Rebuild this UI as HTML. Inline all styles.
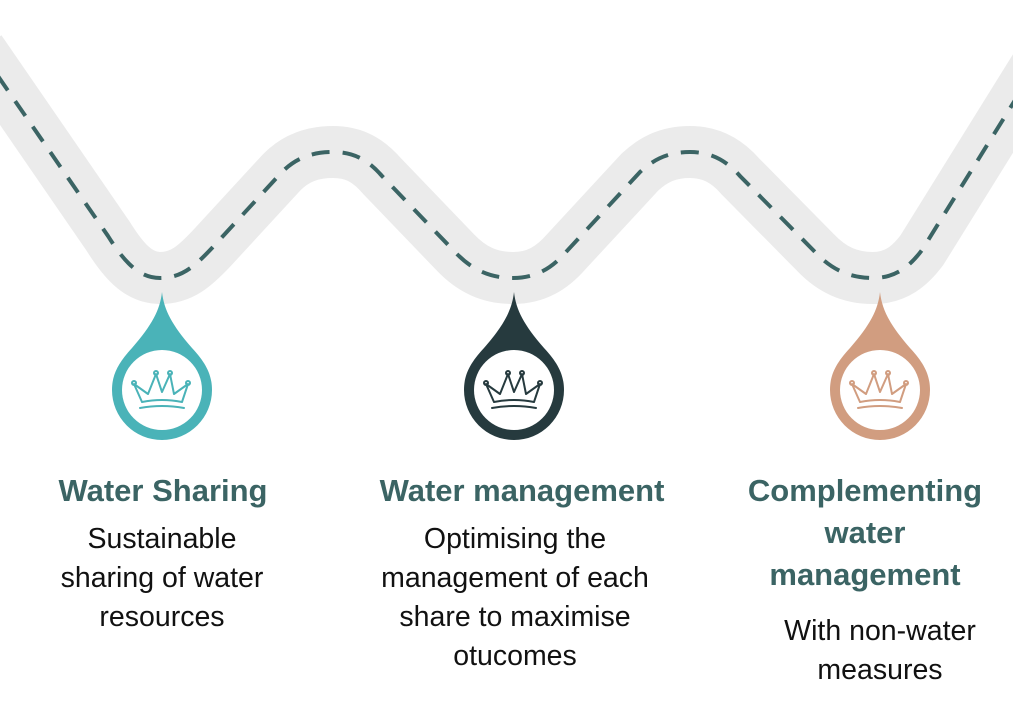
<!DOCTYPE html>
<html><head><style>
body{margin:0;width:1013px;height:705px;background:#fff;overflow:hidden;position:relative;font-family:"Liberation Sans",sans-serif}
.t{position:absolute;width:400px;text-align:center;color:#3b6464;font-weight:bold;font-size:31px;line-height:42px}
.b{position:absolute;width:400px;text-align:center;color:#111;font-size:28.5px;line-height:39px}
svg{position:absolute;left:0;top:0}
</style></head><body>
<svg width="1013" height="705">
<defs>
<g id="crown" fill="none" stroke-width="2" stroke-linecap="round" stroke-linejoin="round">
<path d="M-22,18 Q0,14 22,18 M-20,12 L-28,-6 L-14,4 L-6,-16 L0,2 L8,-16 L12,4 L26,-6 L20,12 M-20,12 Q0,8 20,12"/>
<circle cx="-28" cy="-7" r="2"/><circle cx="-6" cy="-17" r="2"/><circle cx="8" cy="-17" r="2"/><circle cx="26" cy="-7" r="2"/>
</g>
</defs>
<path id="rd" d="M-20,50 L108,236 C123,260 138,278 160,278 C182,278 195,266 212,248 L282,172 C296,158 312,152 333,152 C354,152 368,160 382,176 L455,252 C472,270 490,278 513,278 C536,278 552,268 566,252 L640,172 C655,158 670,152 690,152 C710,152 726,160 740,176 L815,252 C832,270 850,278 873,278 C896,278 910,266 922,250 L1040,60" fill="none" stroke="#ebebeb" stroke-width="52"/>
<path d="M-20,50 L108,236 C123,260 138,278 160,278 C182,278 195,266 212,248 L282,172 C296,158 312,152 333,152 C354,152 368,160 382,176 L455,252 C472,270 490,278 513,278 C536,278 552,268 566,252 L640,172 C655,158 670,152 690,152 C710,152 726,160 740,176 L815,252 C832,270 850,278 873,278 C896,278 910,266 922,250 L1040,60" fill="none" stroke="#3b6464" stroke-width="4" stroke-dasharray="18 13"/>
<g transform="translate(162,390)">
<path d="M0,-98 C2,-80 10,-65 30,-42 C45,-26 50,-14 50,0 A50,50 0 0 1 -50,0 C-50,-14 -45,-26 -30,-42 C-10,-65 -2,-80 0,-98Z" fill="#4ab3b8"/>
<circle r="40" fill="#fff"/><use href="#crown" stroke="#4ab3b8"/>
</g>
<g transform="translate(514,390)">
<path d="M0,-98 C2,-80 10,-65 30,-42 C45,-26 50,-14 50,0 A50,50 0 0 1 -50,0 C-50,-14 -45,-26 -30,-42 C-10,-65 -2,-80 0,-98Z" fill="#263a3e"/>
<circle r="40" fill="#fff"/><use href="#crown" stroke="#263a3e"/>
</g>
<g transform="translate(880,390)">
<path d="M0,-98 C2,-80 10,-65 30,-42 C45,-26 50,-14 50,0 A50,50 0 0 1 -50,0 C-50,-14 -45,-26 -30,-42 C-10,-65 -2,-80 0,-98Z" fill="#d19d80"/>
<circle r="40" fill="#fff"/><use href="#crown" stroke="#d19d80"/>
</g>
</svg>
<div class="t" style="left:-37px;top:470px">Water Sharing</div>
<div class="b" style="left:-38px;top:520px">Sustainable<br>sharing of water<br>resources</div>
<div class="t" style="left:322px;top:470px">Water management</div>
<div class="b" style="left:315px;top:520px">Optimising the<br>management of each<br>share to maximise<br>otucomes</div>
<div class="t" style="left:665px;top:470px">Complementing<br>water<br>management</div>
<div class="b" style="left:680px;top:612px">With non-water<br>measures</div>
</body></html>
